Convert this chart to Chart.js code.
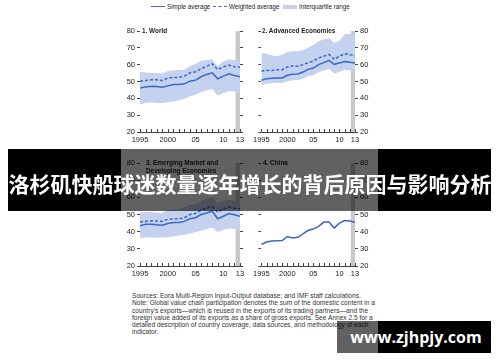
<!DOCTYPE html>
<html><head><meta charset="utf-8">
<script src="https://cdn.jsdelivr.net/npm/chart.js@4.4.0/dist/chart.umd.min.js"></script>
<style>
html,body{margin:0;padding:0;background:#fff;width:500px;height:362px;overflow:hidden;position:relative;font-family:'Liberation Sans Narrow','Arial Narrow','Liberation Sans',Arial,sans-serif;color:#2a2a2a;}
.abs{position:absolute;white-space:nowrap;}
.lg{position:absolute;white-space:nowrap;font-size:7.8px;transform:scaleX(0.8);transform-origin:left top;color:#222;}
canvas{position:absolute;}
.ptitle{position:absolute;font-weight:bold;font-size:7.8px;line-height:8px;color:#222;white-space:nowrap;transform:scaleX(0.82);transform-origin:left top;}
.note{position:absolute;left:132px;font-size:7.2px;line-height:7.3px;color:#333;white-space:nowrap;transform:scaleX(0.92);transform-origin:left top;}
</style></head><body>

<canvas id="c1" width="130" height="125" style="left:120px;top:21px"></canvas>
<canvas id="c2" width="130" height="125" style="left:250px;top:21px"></canvas>
<canvas id="c3" width="130" height="127" style="left:120px;top:153px"></canvas>
<canvas id="c4" width="130" height="127" style="left:250px;top:153px"></canvas>

<!-- legend -->
<div class="abs" style="left:151px;top:6px;width:14px;border-top:1.5px solid #3d6cc0"></div>
<div class="lg" style="left:167px;top:2px">Simple average</div>
<div class="abs" style="left:213px;top:6px;width:14px;border-top:1.5px dashed #3d6cc0"></div>
<div class="lg" style="left:229px;top:2px">Weighted average</div>
<div class="abs" style="left:283px;top:5px;width:14px;height:4px;background:#c4d2f0"></div>
<div class="lg" style="left:299px;top:2px">Interquartile range</div>

<div class="ptitle" style="left:142px;top:27px">1. World</div>
<div class="ptitle" style="left:262px;top:27px">2. Advanced Economies</div>
<div class="ptitle" style="left:146px;top:159px">3. Emerging Market and<br>Developing Economies</div>
<div class="ptitle" style="left:263px;top:159px">4. China</div>

<div class="note" style="top:292px">Sources: Eora Multi-Region Input-Output database; and IMF staff calculations.<br>Note: Global value chain participation denotes the sum of the domestic content in a<br>country's exports—which is reused in the exports of its trading partners—and the<br>foreign value added of its exports as a share of gross exports. See Annex 2.5 for a<br>detailed description of country coverage, data sources, and methodology of each<br>indicator.</div>

<!-- overlay title band -->
<div class="abs" style="left:8px;top:149px;width:113px;height:62px;background:#000"></div>
<div class="abs" style="left:121px;top:149px;width:257px;height:62px;background:rgba(0,0,0,0.62)"></div>
<div class="abs" style="left:378px;top:149px;width:113px;height:62px;background:#000"></div>
<div class="abs" style="left:0px;top:149px;width:500px;height:62px;line-height:68px;text-align:center;color:#fff;font-family:'Noto Sans CJK SC',sans-serif;font-weight:700;font-size:21px">洛杉矶快船球迷数量逐年增长的背后原因与影响分析</div>

<!-- watermark -->
<div class="abs" style="left:337px;top:321px;width:41px;height:32px;background:rgba(0,0,0,0.62)"></div>
<div class="abs" style="left:378px;top:321px;width:113px;height:32px;background:#000"></div>
<div class="abs" style="left:344px;top:321px;width:144px;height:32px;line-height:32px;text-align:center;color:#fff;font-family:'Open Sans',sans-serif;font-weight:700;font-size:16px">www.zjhpjy.com</div>

<script>
const years = [1995,1996,1997,1998,1999,2000,2001,2002,2003,2004,2005,2006,2007,2008,2009,2010,2011,2012,2013];
const xTickYears = [1995,2000,2005,2010,2013];
const xTickLabels = ['1995','2000','05','10','13'];

const worldSimple   = [46.2,46.8,47.2,47.0,46.6,47.4,48.2,48.2,48.6,50.2,50.8,52.8,54.2,55.2,51.6,53.2,54.6,53.6,52.8];
const worldWeighted = [50.2,50.6,51.0,51.0,50.6,52.0,52.4,52.4,53.2,55.2,55.8,57.5,59.1,60.5,57.1,58.7,59.7,58.7,58.5];
const worldQ3       = [55.8,55.4,55.0,55.0,54.8,56.2,56.6,56.8,57.0,59.0,60.5,62.3,62.7,63.0,59.0,62.0,63.0,62.7,62.0];
const worldQ1       = [36.3,37.3,37.7,37.3,37.3,37.7,38.3,38.7,39.7,41.3,42.2,43.6,44.8,45.6,41.6,43.2,44.4,44.0,43.6];

const advSimple   = [50.7,51.7,51.9,52.1,52.1,53.7,54.3,54.5,55.6,57.2,58.0,60.0,61.2,62.6,60.2,61.0,61.8,61.4,61.0];
const advWeighted = [56.2,56.6,56.6,57.0,57.0,58.6,59.2,59.0,60.0,61.2,62.2,64.0,65.0,66.1,63.2,65.0,66.5,65.9,65.2];
const advQ3       = [66.9,66.5,65.5,65.2,65.9,67.5,67.9,67.9,68.5,70.1,71.9,74.1,75.0,75.8,72.9,74.1,78.0,78.4,77.8];
const advQ1       = [47.7,48.7,49.1,49.3,49.1,50.1,50.7,50.7,51.7,53.1,53.7,55.6,56.6,57.6,54.7,55.6,57.0,56.6,56.0];

const emdeSimple   = [43.4,44.3,44.3,44.0,43.8,44.7,45.3,45.3,46.0,47.5,48.1,50.0,50.9,51.9,47.5,49.0,50.6,49.8,49.0];
const emdeWeighted = [45.7,46.0,46.2,46.2,46.0,47.2,47.5,47.5,48.1,50.0,50.6,52.5,53.8,54.7,51.3,53.2,54.3,53.6,53.2];
const emdeQ3       = [51.0,51.5,51.5,51.0,51.0,52.5,53.0,53.0,54.0,55.5,56.0,58.0,59.0,60.0,56.5,58.0,58.5,58.0,57.5];
const emdeQ1       = [36.2,36.6,36.8,36.4,36.6,36.8,37.2,37.7,38.1,39.0,39.6,40.6,41.5,42.5,39.6,41.1,41.9,41.5,41.1];

const china = [32.5,34.0,34.5,34.7,34.8,37.2,36.3,36.7,38.7,40.8,41.5,43.1,45.6,45.6,42.1,45.0,46.5,46.2,45.4];

const shadeFrom = 2012.2, shadeTo = 2013;

const BLUE = '#3a68c2', IQR = '#c4d2f0', SHADE = '#c8c8c8', AX = '#444';
const FONT = "'Liberation Sans Narrow','Arial Narrow','Liberation Sans',Arial,sans-serif";

const pts = arr => arr.map((v,i)=>({x:years[i],y:v}));

const shadePlugin = {
  id:'shade',
  beforeDatasetsDraw(chart){
    const {ctx, chartArea:a, scales:{x}} = chart;
    const x0 = x.getPixelForValue(shadeFrom), x1 = x.getPixelForValue(shadeTo);
    ctx.save(); ctx.fillStyle = SHADE; ctx.fillRect(x0, a.top, x1-x0, a.bottom-a.top); ctx.restore();
  },
  afterDraw(chart){
    const {ctx, chartArea:a, scales:{x}} = chart;
    ctx.save(); ctx.strokeStyle = AX; ctx.lineWidth = 1;
    ctx.beginPath();
    ctx.moveTo(a.left, Math.round(a.bottom)+0.5); ctx.lineTo(a.right, Math.round(a.bottom)+0.5);
    years.forEach(yr=>{ const px = Math.round(x.getPixelForValue(yr))+0.5; ctx.moveTo(px, a.bottom); ctx.lineTo(px, a.bottom-3); });
    ctx.stroke(); ctx.restore();
  }
};

function yAxis(pos, labels, width){
  return {
    type:'linear', position:pos, min:20, max:80,
    ticks:{stepSize:5, color:'#222', font:{family:FONT,size:7.5}, padding:2,
      callback:v => (labels && v%10===0) ? String(v) : ''},
    grid:{drawOnChartArea:false, drawTicks:true, tickLength:3, color:AX},
    border:{display:false},
    afterFit:s=>{ s.width = width; }
  };
}

function makePanel(id, datasets, labelSide, leftW, rightW){
  const cfg = {
    type:'line',
    data:{datasets},
    options:{
      responsive:false, animation:false, devicePixelRatio:1,
      layout:{padding:{top:10,left:0,right:0,bottom:0}},
      plugins:{legend:{display:false}, tooltip:{enabled:false}},
      elements:{point:{radius:0}, line:{tension:0}},
      scales:{
        x:{type:'linear', position:'bottom', min:1995, max:2013,
          ticks:{stepSize:1, autoSkip:false, maxRotation:0, color:'#222', font:{family:FONT,size:7.5}, padding:3,
            callback:v => { const i = xTickYears.indexOf(v); return i>=0 ? xTickLabels[i] : ''; }},
          grid:{display:false, drawTicks:false}, border:{display:false},
          afterFit:s=>{ s.height = 14; }},
        y: yAxis(labelSide==='left'?'left':'right', true, labelSide==='left'?leftW:rightW),
        y2: yAxis(labelSide==='left'?'right':'left', false, labelSide==='left'?rightW:leftW)
      }
    },
    plugins:[shadePlugin]
  };
  return new Chart(document.getElementById(id), cfg);
}

function sets(simple, weighted, q3, q1){
  const d = [];
  d.push({data:pts(simple), borderColor:BLUE, borderWidth:1.5, fill:false, order:0});
  if (weighted) d.push({data:pts(weighted), borderColor:BLUE, borderWidth:1.5, borderDash:[3,2], fill:false, order:0});
  if (q3){
    d.push({data:pts(q3), borderWidth:0, borderColor:'rgba(0,0,0,0)', backgroundColor:IQR, fill:'+1', order:2});
    d.push({data:pts(q1), borderWidth:0, borderColor:'rgba(0,0,0,0)', fill:false, order:2});
  }
  return d;
}

makePanel('c1', sets(worldSimple, worldWeighted, worldQ3, worldQ1), 'left', 20, 10);
makePanel('c2', sets(advSimple, advWeighted, advQ3, advQ1), 'right', 8, 25);
makePanel('c3', sets(emdeSimple, emdeWeighted, emdeQ3, emdeQ1), 'left', 20, 10);
makePanel('c4', sets(china), 'right', 8, 25);
</script>
</body></html>
